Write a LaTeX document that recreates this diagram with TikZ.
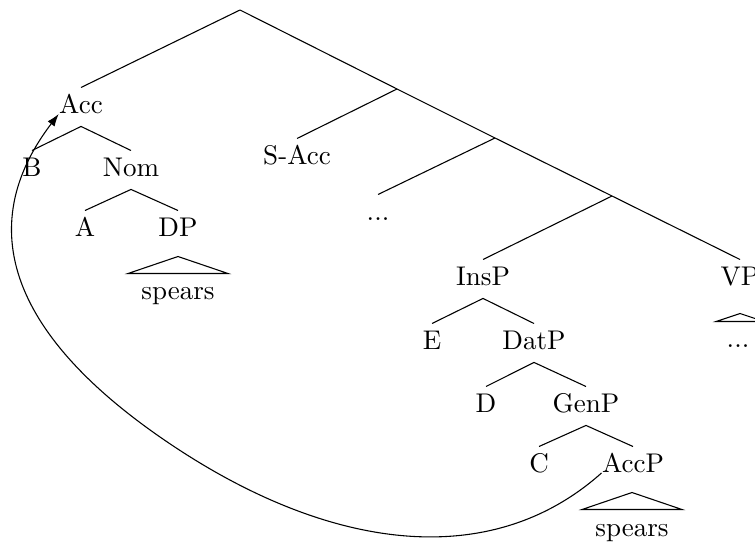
\documentclass[tikz,border=0pt]{standalone}
\usetikzlibrary{arrows.meta}
\begin{document}
\begin{tikzpicture}[x=0.37pt,y=-0.37pt,
  tn/.style={inner sep=0pt, text height=9.6pt, text depth=4.4pt, anchor=base, font=\fontsize{10}{12}\selectfont},
  edge/.style={line width=0.4pt},
  roof/.style={line width=0.4pt},
  mover/.style={line width=0.4pt, -{Latex[length=4.6pt,width=3.2pt]}}]
\clip (0,0) rectangle (755,545);
% junctions
\coordinate (root) at (240,10);
\coordinate (j1) at (397,89);
\coordinate (j2) at (495,138);
\coordinate (j3) at (612,196);
% left subtree
\node[tn] (Acc) at (81,114) {Acc};
\node[tn] (B) at (32,177) {B};
\node[tn] (Nom) at (131,177) {Nom};
\node[tn] (A) at (85,237) {A};
\node[tn] (DP) at (178,237) {DP};
\node[tn] (sp1) at (178,300) {spears};
% right spine
\node[tn] (SAcc) at (297,165) {S-Acc};
\node[tn] (dots1) at (378,221) {...};
\node[tn] (InsP) at (483,286) {InsP};
\node[tn] (VP) at (740,286) {VP};
\node[tn] (dots2) at (738,348) {...};
\node[tn] (E) at (432,350) {E};
\node[tn] (DatP) at (534,350) {DatP};
\node[tn] (D) at (486,413) {D};
\node[tn] (GenP) at (586,413) {GenP};
\node[tn] (C) at (539,473) {C};
\node[tn] (AccP) at (633,473) {AccP};
\node[tn] (sp2) at (632,536) {spears};
% edges
\draw[edge] (root) -- (Acc.north);
\draw[edge] (root) -- (j1);
\draw[edge] (j1) -- (SAcc.north);
\draw[edge] (j1) -- (j2);
\draw[edge] (j2) -- (dots1.north);
\draw[edge] (j2) -- (j3);
\draw[edge] (j3) -- (InsP.north);
\draw[edge] (j3) -- (VP.north);
\draw[edge] (Acc.south) -- (B.north);
\draw[edge] (Acc.south) -- (Nom.north);
\draw[edge] (Nom.south) -- (A.north);
\draw[edge] (Nom.south) -- (DP.north);
\draw[edge] (InsP.south) -- (E.north);
\draw[edge] (InsP.south) -- (DatP.north);
\draw[edge] (DatP.south) -- (D.north);
\draw[edge] (DatP.south) -- (GenP.north);
\draw[edge] (GenP.south) -- (C.north);
\draw[edge] (GenP.south) -- (AccP.north);
% roofs
\draw[roof] (sp1.north) ++(-50,0) -- ++(50,-17) -- ++(50,17) -- cycle;
\draw[roof] (sp2.north) ++(-50,0) -- ++(50,-17) -- ++(50,17) -- cycle;
\draw[roof] (dots2.north) ++(-22,0) -- ++(24,-8) -- ++(24,8) -- cycle;
% movement arrow
\draw[mover] (AccP.base west) .. controls (489,573.5) and (324,551) .. (160,437)
  .. controls (61.6,368.6) and (-49.8,256.2) .. (Acc.base west);
\end{tikzpicture}
\end{document}
